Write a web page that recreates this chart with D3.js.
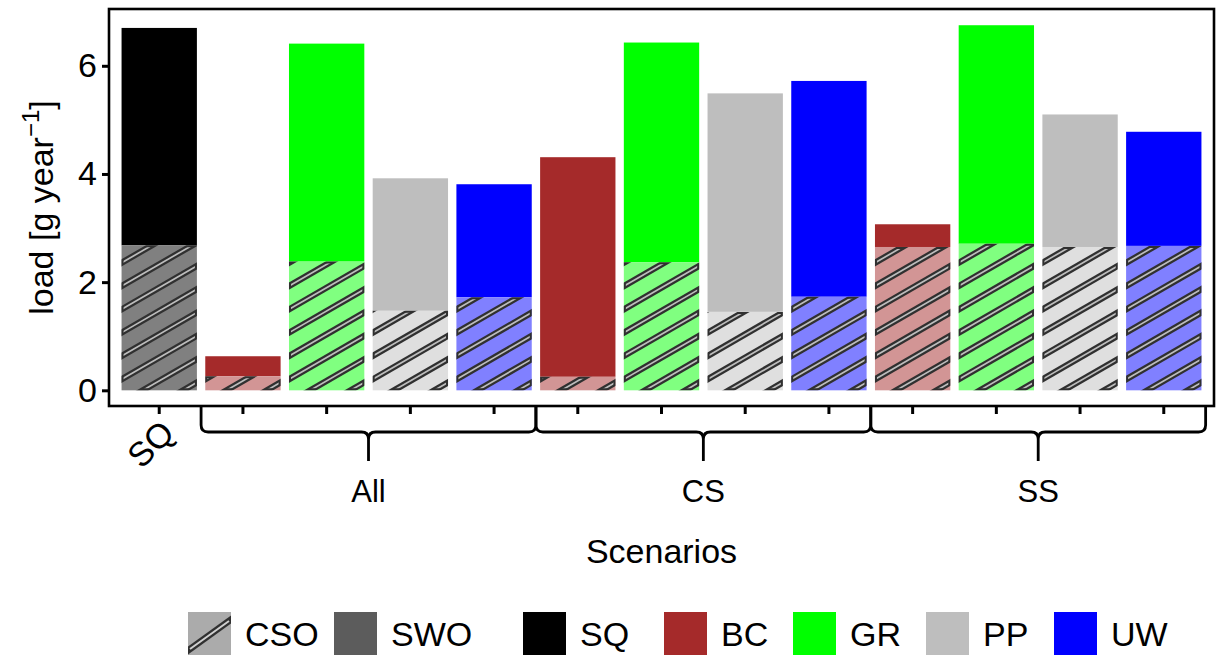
<!DOCTYPE html>
<html>
<head>
<meta charset="utf-8">
<script src="https://cdn.jsdelivr.net/npm/d3@7"></script>
<style>
  html, body { margin: 0; padding: 0; background: #ffffff; }
  svg { display: block; }
  text { font-family: "Liberation Sans", Arial, Helvetica, sans-serif; fill: #000; }
</style>
</head>
<body>
<svg id="chart" width="1223" height="655"></svg>
<script>
// ---- data -------------------------------------------------------------
const scenarios = ["SQ", "All", "All", "All", "All", "CS", "CS", "CS", "CS", "SS", "SS", "SS", "SS"];
const measures  = ["SQ", "BC", "GR", "PP", "UW", "BC", "GR", "PP", "UW", "BC", "GR", "PP", "UW"];
// combined sewer overflow load (hatched, bottom) and storm water outlet load (solid, top)
const csoLoad = [2.68, 0.26, 2.38, 1.47, 1.72, 0.25, 2.37, 1.45, 1.73, 2.65, 2.71, 2.65, 2.67];
const swoLoad = [4.02, 0.37, 4.03, 2.45, 2.09, 4.06, 4.06, 4.04, 3.99, 0.42, 4.04, 2.45, 2.11];
const yTicks = [0, 2, 4, 6];
const groupLabels = ["All", "CS", "SS"];
const measureKeys = ["SQ", "BC", "GR", "PP", "UW"];
const measureColors = ["#000000", "#A52A2A", "#00FF00", "#BEBEBE", "#0000FF"];
const sourceKeys = ["CSO", "SWO"];

// ---- layout -----------------------------------------------------------
const panel = { left: 109, right: 1214, top: 9, bottom: 406 };
const FONT = 34;

const svg = d3.select("#chart");

const idx = d3.range(scenarios.length);
const x = d3.scaleBand()
  .domain(idx)
  .range([panel.left, panel.right])
  .paddingInner(0.1)
  .paddingOuter(0.15);

const y = d3.scaleLinear()
  .domain([-0.29, 7.05])
  .range([panel.bottom, panel.top]);

const colorOf = d3.scaleOrdinal().domain(measureKeys).range(measureColors);
const lighten = c => { const k = d3.rgb(c); return d3.rgb(255 - (255 - k.r) * 0.5, 255 - (255 - k.g) * 0.5, 255 - (255 - k.b) * 0.5).formatHex(); };

const defs = svg.append("defs");

// diagonal stripes, clipped to a rectangle: dark outline stroke + light core
const HATCH_ANGLE = 30 * Math.PI / 180;
const HATCH_STEP = 23.3;
function hatch(g, rx, ry, rw, rh, id, anchorY, phase) {
  const outer = defs.append("clipPath").attr("id", id + "-o");
  outer.append("rect").attr("x", rx).attr("y", ry).attr("width", rw).attr("height", rh);
  const inner = defs.append("clipPath").attr("id", id + "-i");
  inner.append("rect").attr("x", rx + 2).attr("y", ry + 2)
    .attr("width", Math.max(0, rw - 4)).attr("height", Math.max(0, rh - 4));
  const t = Math.tan(HATCH_ANGLE);
  const starts = [];
  for (let m = -60; m <= 60; m++) {
    const yi = anchorY + phase + m * HATCH_STEP;
    if (yi > ry - 6 && yi - t * rw < ry + rh + 6) starts.push(yi);
  }
  const seg = yi => ({ x1: rx - 8, y1: yi + 8 * t, x2: rx + rw + 8, y2: yi - (rw + 8) * t });
  const gd = g.append("g").attr("clip-path", `url(#${id}-o)`);
  gd.selectAll("line").data(starts).join("line")
    .each(function (d) { const s = seg(d); d3.select(this).attr("x1", s.x1).attr("y1", s.y1).attr("x2", s.x2).attr("y2", s.y2); })
    .attr("stroke", "#303030").attr("stroke-width", 6.2);
  const gl = g.append("g").attr("clip-path", `url(#${id}-i)`);
  gl.selectAll("line").data(starts).join("line")
    .each(function (d) { const s = seg(d); d3.select(this).attr("x1", s.x1).attr("y1", s.y1).attr("x2", s.x2).attr("y2", s.y2); })
    .attr("stroke", "#bdbdbd").attr("stroke-width", 1.7);
}

// ---- bars -------------------------------------------------------------
const barsG = svg.append("g");
idx.forEach(i => {
  const col = colorOf(measures[i]);
  const x0 = x(i), bw = x.bandwidth();
  const yBase = y(0), yCso = y(csoLoad[i]), yTop = y(csoLoad[i] + swoLoad[i]);
  // SWO part (solid)
  barsG.append("rect")
    .attr("x", x0).attr("y", yTop).attr("width", bw).attr("height", yCso - yTop)
    .attr("fill", col);
  // CSO part (translucent + hatched)
  barsG.append("rect")
    .attr("x", x0).attr("y", yCso).attr("width", bw).attr("height", yBase - yCso)
    .attr("fill", lighten(col));
  hatch(barsG, x0, yCso, bw, yBase - yCso, "h" + i, yBase, -11);
});

// ---- axes -------------------------------------------------------------
const yAxis = svg.append("g")
  .attr("transform", `translate(${panel.left},0)`)
  .call(d3.axisLeft(y).tickValues(yTicks).tickSize(7).tickPadding(5).tickFormat(d3.format("d")));
yAxis.select(".domain").remove();
yAxis.selectAll(".tick line").attr("stroke", "#000").attr("stroke-width", 3);
yAxis.selectAll(".tick text").attr("font-size", FONT).attr("fill", "#000")
  .attr("font-family", "Liberation Sans, Arial, sans-serif");

const xAxis = svg.append("g")
  .attr("transform", `translate(0,${panel.bottom})`)
  .call(d3.axisBottom(x).tickSize(8).tickFormat(""));
xAxis.select(".domain").remove();
xAxis.selectAll(".tick line").attr("stroke", "#000").attr("stroke-width", 3);

// panel frame
svg.append("rect")
  .attr("x", panel.left).attr("y", panel.top)
  .attr("width", panel.right - panel.left).attr("height", panel.bottom - panel.top)
  .attr("fill", "none").attr("stroke", "#000").attr("stroke-width", 2.6);

// status quo label under its own tick
const cx = i => x(i) + x.bandwidth() / 2;
svg.append("text")
  .attr("transform", `translate(${cx(0) + 17},${panel.bottom + 29}) rotate(-45)`)
  .attr("text-anchor", "end")
  .attr("font-size", FONT)
  .text(scenarios[0]);

// curly brackets grouping the scenario bars
const step = x.step();
const bracketG = svg.append("g").attr("fill", "none").attr("stroke", "#000").attr("stroke-width", 2.8);
groupLabels.forEach(lbl => {
  const members = idx.filter(i => scenarios[i] === lbl);
  const x0 = cx(members[0]) - step / 2;
  const x1 = cx(members[members.length - 1]) + step / 2;
  const xc = (x0 + x1) / 2;
  const yT = panel.bottom + 1, yh = 432, yTip = 461, r = 7;
  const p = d3.path();
  p.moveTo(x0, yT); p.lineTo(x0, yh - r); p.quadraticCurveTo(x0, yh, x0 + r, yh);
  p.lineTo(xc - r, yh); p.quadraticCurveTo(xc, yh, xc, yh + r); p.lineTo(xc, yTip);
  p.moveTo(xc, yh + r); p.quadraticCurveTo(xc, yh, xc + r, yh);
  p.lineTo(x1 - r, yh); p.quadraticCurveTo(x1, yh, x1, yh - r); p.lineTo(x1, yT);
  bracketG.append("path").attr("d", p.toString());
  svg.append("text")
    .attr("x", xc).attr("y", 502)
    .attr("text-anchor", "middle")
    .attr("font-family", "'Open Sans', 'Noto Sans', sans-serif")
    .attr("font-size", 31)
    .text(lbl);
});

// axis titles
svg.append("text")
  .attr("x", (panel.left + panel.right) / 2).attr("y", 563)
  .attr("text-anchor", "middle").attr("font-size", FONT)
  .text("Scenarios");

const yTitle = svg.append("text")
  .attr("transform", `translate(53,${(panel.top + panel.bottom) / 2}) rotate(-90)`)
  .attr("text-anchor", "middle").attr("font-size", FONT);
yTitle.append("tspan").text("load [g year");
yTitle.append("tspan").attr("font-size", 24).attr("dy", -14).text("\u22121");
yTitle.append("tspan").attr("dy", 14).text("]");

// ---- legend -----------------------------------------------------------
const legendKeyX = [188, 334, 523, 664, 793, 926, 1054];
const KEY = 43, keyY = 612;
const legendItems = [
  { label: sourceKeys[0], fill: "#ababab", striped: true },
  { label: sourceKeys[1], fill: "#5c5c5c", striped: false },
  ...measureKeys.map((k, j) => ({ label: k, fill: measureColors[j], striped: false }))
];
const legG = svg.append("g");
legendItems.forEach((it, j) => {
  const kx = legendKeyX[j];
  legG.append("rect").attr("x", kx).attr("y", keyY).attr("width", KEY).attr("height", KEY).attr("fill", it.fill);
  if (it.striped) {
    defs.append("clipPath").attr("id", "legclip")
      .append("rect").attr("x", kx).attr("y", keyY).attr("width", KEY).attr("height", KEY);
    const lg = legG.append("g").attr("clip-path", "url(#legclip)");
    lg.append("line").attr("x1", kx - 2).attr("y1", keyY + 40).attr("x2", kx + KEY + 2).attr("y2", keyY + 6)
      .attr("stroke", "#303030").attr("stroke-width", 6.5);
    lg.append("line").attr("x1", kx + 2).attr("y1", keyY + 37).attr("x2", kx + KEY - 2).attr("y2", keyY + 9)
      .attr("stroke", "#cfcfcf").attr("stroke-width", 2);
  }
  legG.append("text").attr("x", kx + KEY + 14).attr("y", keyY + 34)
    .attr("font-size", FONT).text(it.label);
});
</script>
</body>
</html>
